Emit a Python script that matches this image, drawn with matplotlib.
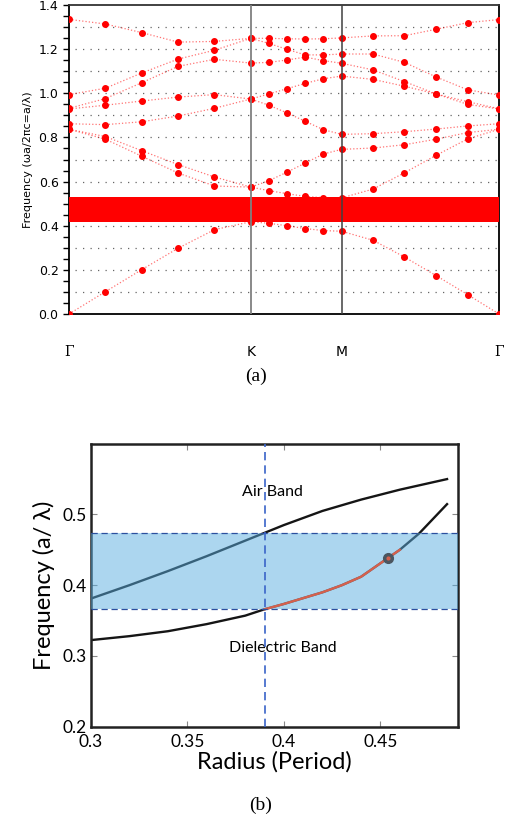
import matplotlib
matplotlib.use("Agg")
import matplotlib.pyplot as plt
import numpy as np

# (a) band diagram: k-path positions (Gamma-K-M-Gamma, hexagonal lattice)
k_pos = [0.0, 0.2, 0.4, 0.6, 0.8, 1.0, 1.1, 1.2, 1.3, 1.4, 1.5,
         1.673, 1.846, 2.020, 2.193, 2.366]
k_ticks = [0.0, 1.0, 1.5, 2.366]
k_labels = ["Γ", "K", "M", "Γ"]

band1 = [0.000, 0.101, 0.201, 0.298, 0.382, 0.418, 0.411, 0.400, 0.387, 0.378, 0.375, 0.334, 0.258, 0.174, 0.088, 0.000]
band2 = [0.837, 0.792, 0.715, 0.639, 0.580, 0.575, 0.559, 0.545, 0.533, 0.527, 0.526, 0.566, 0.640, 0.719, 0.793, 0.837]
band3 = [0.837, 0.804, 0.740, 0.677, 0.621, 0.575, 0.604, 0.643, 0.684, 0.725, 0.746, 0.752, 0.767, 0.792, 0.822, 0.837]
band4 = [0.862, 0.858, 0.871, 0.897, 0.932, 0.974, 0.946, 0.911, 0.873, 0.835, 0.814, 0.817, 0.826, 0.838, 0.852, 0.862]
band5 = [0.929, 0.946, 0.965, 0.983, 0.994, 0.974, 0.997, 1.021, 1.045, 1.066, 1.078, 1.063, 1.032, 0.997, 0.950, 0.929]
band6 = [0.932, 0.976, 1.048, 1.122, 1.154, 1.137, 1.140, 1.151, 1.164, 1.148, 1.136, 1.106, 1.053, 0.997, 0.962, 0.930]
band7 = [0.994, 1.023, 1.092, 1.155, 1.195, 1.249, 1.226, 1.199, 1.174, 1.174, 1.178, 1.178, 1.140, 1.074, 1.016, 0.992]
band8 = [1.335, 1.314, 1.275, 1.232, 1.235, 1.249, 1.249, 1.247, 1.246, 1.247, 1.251, 1.260, 1.261, 1.290, 1.320, 1.334]
bands = [band1, band2, band3, band4, band5, band6, band7, band8]
gap_a = (0.418, 0.528)

# (b) gap map vs radius
radius_air = [0.30, 0.32, 0.34, 0.36, 0.38, 0.39, 0.40, 0.42, 0.44, 0.46, 0.4845]
freq_air = [0.381, 0.400, 0.420, 0.441, 0.463, 0.474, 0.485, 0.505, 0.521, 0.535, 0.550]
radius_diel = [0.30, 0.32, 0.34, 0.36, 0.38, 0.39, 0.40, 0.42, 0.43, 0.44, 0.45, 0.46, 0.47, 0.4845]
freq_diel = [0.3224, 0.328, 0.335, 0.345, 0.357, 0.366, 0.3735, 0.390, 0.400, 0.412, 0.431, 0.450, 0.473, 0.5146]
gap_b = (0.366, 0.474)
r_design = 0.39
marker_pt = (0.4539, 0.4387)


def plot_bands(fig):
    ax = fig.add_axes([0.1348, 0.618, 0.8398, 0.3759])
    for y in np.arange(0.1, 1.35, 0.1):
        ax.axhline(y, xmin=0.015, color="#666666", lw=0.9, ls=(0, (1, 5)), zorder=1)
    for b in bands:
        ax.plot(k_pos, b, ls=":", color="red", lw=0.9, alpha=0.55, zorder=2)
        ax.plot(k_pos, b, ls="none", marker="o", ms=4, color="red", zorder=4)
    ax.axhspan(gap_a[0], gap_a[1], color="red", lw=0, zorder=3)
    ax.axvline(k_ticks[1], color="#808080", lw=1.3, zorder=5)
    ax.axvline(k_ticks[2], color="#404040", lw=1.1, zorder=5)
    ax.set_xlim(0, k_ticks[-1])
    ax.set_ylim(0, 1.4)
    ax.set_yticks(np.arange(0, 1.41, 0.2))
    ax.set_yticks(np.arange(0, 1.41, 0.05), minor=True)
    ax.set_yticklabels(["%.1f" % v for v in np.arange(0, 1.41, 0.2)], fontsize=9)
    ax.tick_params(axis="y", which="both", direction="out", length=4, width=1)
    ax.set_xticks(k_ticks)
    ax.set_xticklabels(k_labels)
    ax.tick_params(axis="x", length=0, pad=22, labelsize=10)
    for lbl, txt in zip(ax.get_xticklabels(), k_labels):
        if txt == "Γ":
            lbl.set_family("DejaVu Serif")
    ax.set_ylabel("Frequency (ωa/2πc=a/λ)", fontsize=8, labelpad=4)
    for s in ax.spines.values():
        s.set_linewidth(1.3)
    ax.spines["top"].set_color("#333333")
    fig.text(0.5, 1 - 376 / 822, "(a)", ha="center", va="center",
             fontsize=14, family="Liberation Serif")


def plot_gapmap(fig):
    ax = fig.add_axes([0.1771, 0.1159, 0.7168, 0.3443])
    ax.plot(radius_air, freq_air, color="#151515", lw=1.7, zorder=2)
    ax.plot(radius_diel, freq_diel, color="#151515", lw=1.7, zorder=2)
    ax.axhspan(gap_b[0], gap_b[1], color="#5aaee0", alpha=0.5, lw=0, zorder=3)
    ax.plot(radius_diel[5:12], freq_diel[5:12], color="#d5604c", lw=1.7, zorder=4)
    ax.plot(*marker_pt, marker="o", ms=7, color="#4b5660", zorder=5)
    ax.plot(*marker_pt, marker="o", ms=2, color="#d5604c", zorder=6)
    for y in gap_b:
        ax.axhline(y, color="#2b4f9e", lw=0.9, ls=(0, (5, 3)), zorder=4)
    ax.axvline(r_design, color="#3a64c8", lw=1.2, ls=(0, (5, 3)), zorder=4)
    ax.text(0.394, 0.532, "Air Band", ha="center", va="center", fontsize=11.5, family="Lato")
    ax.text(0.3997, 0.311, "Dielectric Band", ha="center", va="center", fontsize=11.5, family="Lato")
    ax.set_xlim(0.3, 0.49)
    ax.set_ylim(0.2, 0.6)
    ax.set_xticks([0.3, 0.35, 0.4, 0.45])
    ax.set_xticklabels(["0.3", "0.35", "0.4", "0.45"])
    ax.set_yticks([0.2, 0.3, 0.4, 0.5])
    ax.set_yticklabels(["0.2", "0.3", "0.4", "0.5"])
    ax.tick_params(direction="in", length=4, width=0.8, color="#888888",
                   top=True, right=True, labelsize=12.5)
    ax.tick_params(axis="x", pad=5)
    ax.tick_params(axis="y", pad=3)
    for lbl in ax.get_xticklabels() + ax.get_yticklabels():
        lbl.set_family("Lato")
    ax.set_xlabel("Radius (Period)", fontsize=17, family="Lato", labelpad=1)
    ax.set_ylabel("Frequency (a/ λ)", fontsize=17, family="Lato", labelpad=5)
    for s in ax.spines.values():
        s.set_linewidth(1.8)
        s.set_color("#222222")
    fig.text(0.508, 1 - 805 / 822, "(b)", ha="center", va="center",
             fontsize=14, family="Liberation Serif")


def main():
    fig = plt.figure(figsize=(5.12, 8.22), dpi=100)
    plot_bands(fig)
    plot_gapmap(fig)
    fig.savefig("out.png", dpi=100)


if __name__ == "__main__":
    main()
